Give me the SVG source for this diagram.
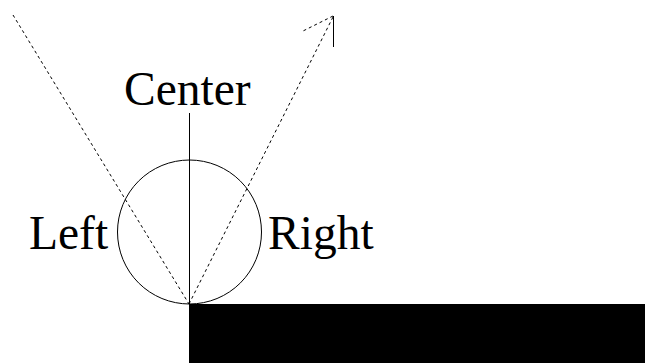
<svg xmlns="http://www.w3.org/2000/svg" width="645" height="363" viewBox="0 0 645 363">
<style>
.lbl{font-family:"Liberation Serif","Times New Roman",serif;font-size:47.5px;fill:#000}
.dash{stroke:#000;stroke-width:1;stroke-dasharray:3,3;fill:none}
.solid{stroke:#000;stroke-width:1;fill:none}
</style>
<rect x="0" y="0" width="645" height="363" fill="#fff"/>
<g id="ground"><rect x="189" y="304" width="456" height="59" fill="#000"/></g>
<g id="circle"><circle cx="189.5" cy="232" r="72" class="solid"/></g>
<g id="connectors">
<line x1="189.5" y1="113" x2="189.5" y2="304" class="solid"/>
<line x1="13" y1="15" x2="189" y2="304" class="dash"/>
<line x1="189" y1="304" x2="333" y2="17" class="dash"/>
<line x1="333" y1="16" x2="301" y2="32" class="dash"/>
<line x1="333.5" y1="16" x2="333.5" y2="47" class="solid"/>
</g>
<g id="center"><text class="lbl" x="124" y="105">Center</text></g>
<g id="left"><text class="lbl" x="29" y="249">Left</text></g>
<g id="right"><text class="lbl" x="268" y="249">Right</text></g>
</svg>
